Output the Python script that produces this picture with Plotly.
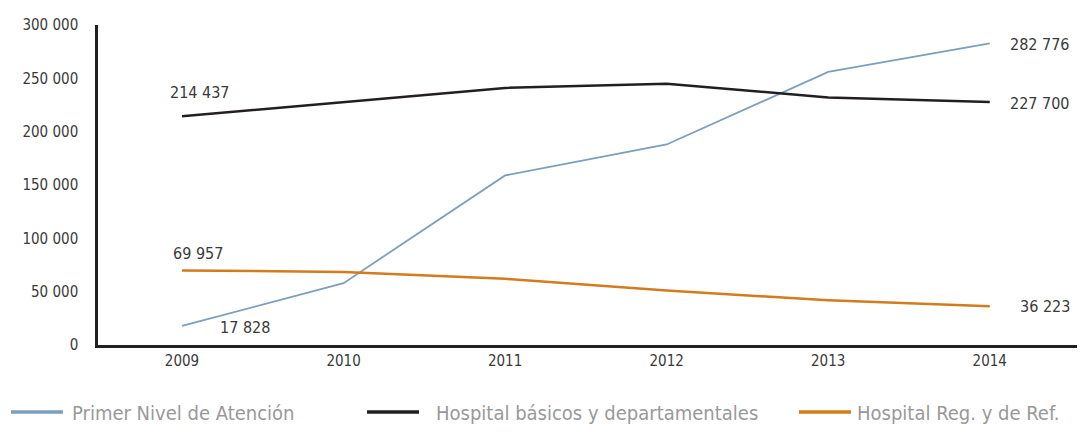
import plotly.graph_objects as go

# Données
annees = ['2009', '2010', '2011', '2012', '2013', '2014']
primer_nivel = [17828, 58000, 159000, 188000, 256000, 282776]
hosp_basicos = [214437, 228000, 241000, 245000, 232000, 227700]
hosp_reg_ref = [69957, 68500, 62000, 51000, 42000, 36223]

noms = ['Primer Nivel de Atención', 'Hospital básicos y departamentales', 'Hospital Reg. y de Ref.']
couleurs = ['#7b9fbd', '#231f20', '#d47b1c']
series = [primer_nivel, hosp_basicos, hosp_reg_ref]

police = 'DejaVu Sans Condensed, Liberation Sans Narrow, Arial Narrow, sans-serif'


def fmt(v):
    return f'{v:,}'.replace(',', ' ')


fig = go.Figure()
for nom, vals, coul, larg in zip(noms, series, couleurs, [1.8, 2.5, 2.5]):
    fig.add_trace(go.Scatter(x=annees, y=vals, mode='lines', name=nom,
                             line=dict(color=coul, width=larg), showlegend=False))

# Étiquettes de valeurs (premier / dernier point) - x en index de catégorie
premier, dernier = 0, len(annees) - 1
etiquettes = [
    (premier, hosp_basicos[0], 18, 24),
    (premier, primer_nivel[0], 63, -2),
    (premier, hosp_reg_ref[0], 16, 17),
    (dernier, primer_nivel[-1], 50, -1),
    (dernier, hosp_basicos[-1], 50, -1),
    (dernier, hosp_reg_ref[-1], 55, 0),
]
for x, y, dx, dy in etiquettes:
    fig.add_annotation(x=x, y=y, text=fmt(y), showarrow=False, xshift=dx, yshift=dy,
                       font=dict(family=police, size=16, color='#3a3a3a'))

# Légende dessinée à la main
h_plot = 325
leg_x = [(11, 63, 70), (367, 419, 434), (799, 851, 855)]
for (x0, x1, xt), nom, coul in zip(leg_x, noms, couleurs):
    fig.add_shape(type='line', xref='paper', yref='paper',
                  x0=(x0 - 98) / 979, x1=(x1 - 98) / 979,
                  y0=(345 - 413) / h_plot, y1=(345 - 413) / h_plot,
                  line=dict(color=coul, width=3.5))
    fig.add_annotation(xref='paper', yref='paper', x=(xt - 98) / 979, y=(345 - 414) / h_plot,
                       text=nom, showarrow=False, xanchor='left', yanchor='middle',
                       font=dict(family=police, size=20, color='#999999'))

# la page a une marge de 8 px : on compense
fig.update_layout(
    width=1077, height=424,
    margin=dict(l=90, r=8, t=12, b=87),
    paper_bgcolor='white', plot_bgcolor='white',
    separators=', ',
    font=dict(family=police, size=15, color='#3a3a3a'),
)
fig.update_xaxes(type='category', range=[-0.52, 5.54], showgrid=False, showline=True,
                 linecolor='#231f20', linewidth=2.5, ticks='',
                 tickfont=dict(size=15, color='#3a3a3a'))
fig.update_yaxes(range=[0, 300000], tickvals=[0, 50000, 100000, 150000, 200000, 250000, 300000],
                 tickformat=',d', showgrid=False, zeroline=False, showline=True,
                 linecolor='#231f20', linewidth=2.5, ticks='', ticklabelstandoff=14,
                 tickfont=dict(size=15, color='#3a3a3a'))

fig.write_html('out.html')
